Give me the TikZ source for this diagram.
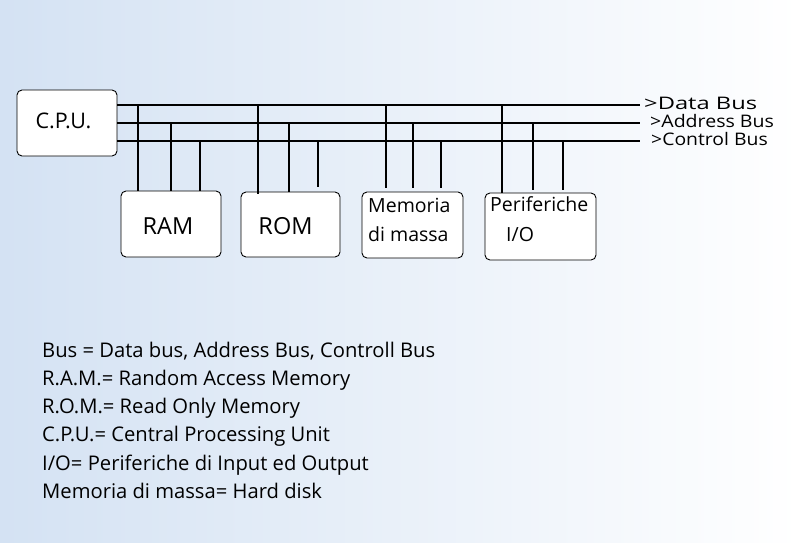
\documentclass[tikz,border=0pt]{standalone}
\usepackage{fontspec}
\setmainfont{Open Sans}
\definecolor{bgblue}{RGB}{212,226,243}
\begin{document}
\begin{tikzpicture}[x=1pt,y=-1pt,
  box/.style={draw=black, line width=0.9pt, rounded corners=5pt, fill=white, inner sep=0pt},
  bus/.style={line width=1.2pt},
  drop/.style={line width=1.1pt},
  cputxt/.style={font=\fontsize{21.5}{24}\selectfont, inner sep=0pt, anchor=base},
  boxtxt/.style={font=\fontsize{23.5}{26}\selectfont, inner sep=0pt, anchor=base},
  smalltxt/.style={font=\fontsize{19.5}{29}\selectfont, inner sep=0pt, anchor=base west},
  buslbl/.style={font=\fontsize{17.3}{20}\selectfont\addfontfeatures{FakeStretch=#1}, inner sep=0pt, anchor=base west},
  leg/.style={font=\fontsize{20.2}{24}\selectfont, inner sep=0pt, anchor=base west}]
\shade[left color=bgblue, right color=white] (0,0) rectangle (800,543);
\useasboundingbox (0,0) rectangle (800,543);

% boxes
\node[box, minimum width=100pt, minimum height=66pt] (cpu) at (67,123) {};
\node[box, minimum width=100pt, minimum height=66pt] (ram) at (171,224) {};
\node[box, minimum width=99pt, minimum height=65pt] (rom) at (290.5,224.5) {};
\node[box, minimum width=101pt, minimum height=66pt] (mem) at (412.5,225) {};
\node[box, minimum width=111pt, minimum height=67pt] (per) at (540.5,226.5) {};

% box texts
\node[cputxt] (cpulbl) at (63.5,128) {C.P.U.};
\node[boxtxt] (ramlbl) at (168,234) {RAM};
\node[boxtxt] (romlbl) at (285.5,234) {ROM};
\node[smalltxt] (memtxt1) at (368,212) {Memoria};
\node[smalltxt] (memtxt2) at (368,241) {di massa};
\node[smalltxt] (pertxt1) at (490,211) {Periferiche};
\node[smalltxt] (pertxt2) at (506,241) {I/O};

% bus ends
\coordinate (dA) at (cpu.east |- 0,105);
\coordinate (aA) at (cpu.east |- 0,123);
\coordinate (cA) at (cpu.east |- 0,141);
\coordinate (dB) at (640,105);
\coordinate (aB) at (640,123);
\coordinate (cB) at (640,141);
\draw[bus] (dA) -- (dB);
\draw[bus] (aA) -- (aB);
\draw[bus] (cA) -- (cB);

% bus labels
\node[buslbl=1.37] (dlbl) at (644,109) {>Data Bus};
\node[buslbl=1.13] (albl) at (650,127) {>Address Bus};
\node[buslbl=1.12] (clbl) at (651,145) {>Control Bus};

% taps on the buses
\coordinate (r1) at (138,105); \coordinate (r2) at (171,123); \coordinate (r3) at (200,141);
\coordinate (o1) at (258,105); \coordinate (o2) at (289,123); \coordinate (o3) at (318,141);
\coordinate (m1) at (386,105); \coordinate (m2) at (413,123); \coordinate (m3) at (441,141);
\coordinate (p1) at (502,105); \coordinate (p2) at (533,123); \coordinate (p3) at (563,141);

\draw[drop] (r1) -- (r1 |- ram.north);
\draw[drop] (r2) -- (r2 |- ram.north);
\draw[drop] (r3) -- (r3 |- ram.north);
\draw[drop] (o1) -- ([yshift=-2pt]o1 |- rom.north);
\draw[drop] (o2) -- (o2 |- rom.north);
\draw[drop] (o3) -- ([yshift=5pt]o3 |- rom.north);
\draw[drop] (m1) -- ([yshift=4pt]m1 |- mem.north);
\draw[drop] (m2) -- ([yshift=4pt]m2 |- mem.north);
\draw[drop] (m3) -- ([yshift=4pt]m3 |- mem.north);
\draw[drop] (p1) -- (p1 |- per.north);
\draw[drop] (p2) -- ([yshift=3pt]p2 |- per.north);
\draw[drop] (p3) -- ([yshift=3pt]p3 |- per.north);

% legend
\node[leg] (l1) at (42,357) {Bus = Data bus, Address Bus, Controll Bus};
\node[leg] (l2) at (42,385.5) {R.A.M.= Random Access Memory};
\node[leg] (l3) at (42,413.5) {R.O.M.= Read Only Memory};
\node[leg] (l4) at (42,441.5) {C.P.U.= Central Processing Unit};
\node[leg] (l5) at (42,470) {I/O= Periferiche di Input ed Output};
\node[leg] (l6) at (42,498) {Memoria di massa= Hard disk};
\end{tikzpicture}
\end{document}
